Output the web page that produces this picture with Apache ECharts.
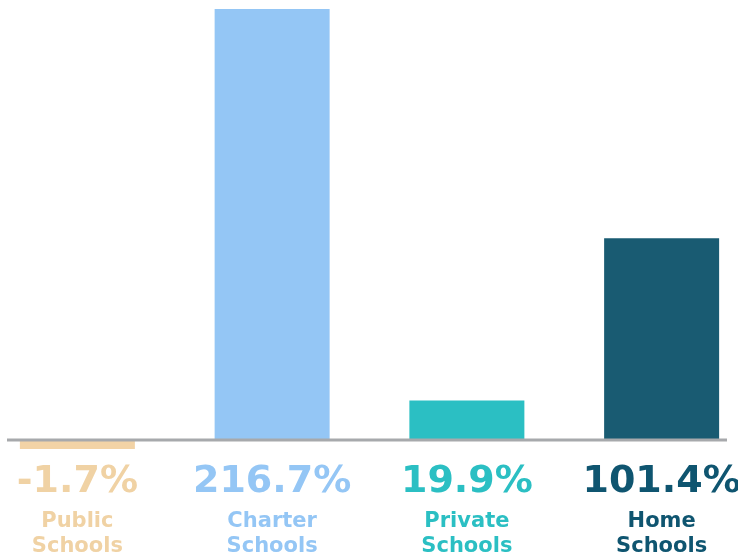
<!DOCTYPE html>
<html>
<head>
<meta charset="utf-8">
<script src="https://cdn.jsdelivr.net/npm/echarts@6/dist/echarts.min.js"></script>
<style>html,body{margin:0;padding:0;background:#fff}#c{width:738px;height:557px}</style>
</head>
<body>
<div id="c"></div>
<script>
var categories = ['Public Schools', 'Charter Schools', 'Private Schools', 'Home Schools'];
var changePct = [-1.7, 216.7, 19.9, 101.4];
var barColors = ['#F2D3A6', '#94C6F5', '#2BBFC3', '#195B72'];
var labelColors = ['#F0D2A4', '#94C6F5', '#2BBFC3', '#0F5570'];

var rich = {};
labelColors.forEach(function (c, i) {
  rich['p' + i] = { color: c, fontFamily: 'DejaVu Sans', fontWeight: 'bold', fontSize: 38, lineHeight: 48, letterSpacing: -1, verticalAlign: 'top' };
  rich['c' + i] = { color: c, fontFamily: 'DejaVu Sans', fontWeight: 'bold', fontSize: 21, lineHeight: 25, verticalAlign: 'top' };
});

var chart = echarts.init(document.getElementById('c'));
chart.setOption({
  animation: false,
  grid: { left: -20, right: -21, top: 2.4, bottom: 117, outerBoundsMode: 'none', containLabel: false },
  xAxis: {
    type: 'category',
    data: categories,
    axisLine: { show: false },
    axisTick: { show: false },
    axisLabel: {
      interval: 0,
      margin: 23,
      align: 'center',
      verticalAlign: 'top',
      formatter: function (val, idx) {
        var parts = val.split(' ');
        return '{p' + idx + '|' + changePct[idx] + '%}\n{c' + idx + '|' + parts[0] + '}\n{c' + idx + '|' + parts[1] + '}';
      },
      rich: rich
    }
  },
  yAxis: {
    type: 'value', min: 0, max: 220, interval: 20,
    show: false, splitLine: { show: false }
  },
  series: [{
    type: 'bar',
    clip: false,
    data: changePct.map(function (v, i) { return { value: v, itemStyle: { color: barColors[i] } }; }),
    barWidth: 115,
    barMinHeight: 9
  }]
});
var y0 = chart.convertToPixel({ yAxisIndex: 0 }, 0);
chart.setOption({
  graphic: [{
    type: 'line', z: 100,
    shape: { x1: 7, y1: y0, x2: 727, y2: y0 },
    style: { stroke: '#A7A9AC', lineWidth: 3 }
  }]
});
</script>
</body>
</html>
